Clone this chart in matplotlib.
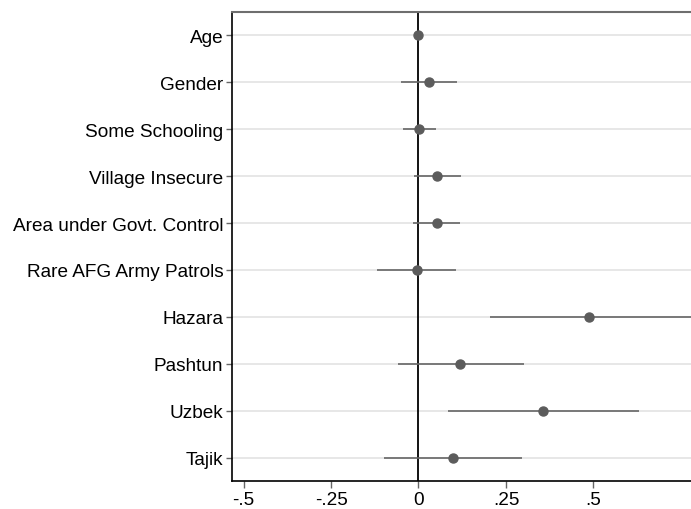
import numpy as np
import matplotlib.pyplot as plt

plt.rcParams['font.family'] = ['Liberation Sans', 'DejaVu Sans']

# variables, top to bottom
etiquetas = ['Age', 'Gender', 'Some Schooling', 'Village Insecure',
             'Area under Govt. Control', 'Rare AFG Army Patrols',
             'Hazara', 'Pashtun', 'Uzbek', 'Tajik']
coef = [0.000, 0.030, 0.001, 0.054, 0.052, -0.005, 0.487, 0.119, 0.357, 0.098]
ci_bajo = [-0.002, -0.050, -0.045, -0.012, -0.016, -0.118, 0.203, -0.060, 0.085, -0.100]
ci_alto = [0.002, 0.110, 0.049, 0.121, 0.119, 0.108, 0.800, 0.302, 0.631, 0.296]
ticks_x = [-0.5, -0.25, 0, 0.25, 0.5]
ticks_x_lab = ['-.5', '-.25', '0', '.25', '.5']

pos = np.arange(len(etiquetas))

fig = plt.figure(figsize=(6.91, 5.10), dpi=100)
ax = fig.add_axes([0.3353, 0.0549, 0.6647, 0.9196])

for p in pos:
    ax.axhline(p, color='#e3e3e3', lw=1.2, zorder=0)
ax.axvline(0, color='black', lw=1.3, zorder=1)

ax.hlines(pos, ci_bajo, ci_alto, color='#666666', lw=1.2, zorder=2)
ax.plot(coef, pos, 'o', color='#5c5c5c', ms=6.5, zorder=3)

ax.set_xlim(-0.534, 0.779)
ax.set_ylim(len(etiquetas) - 0.5, -0.5)
ax.set_yticks(pos)
ax.set_yticklabels(etiquetas, fontsize=13.7)
ax.set_xticks(ticks_x)
ax.set_xticklabels(ticks_x_lab, fontsize=13.7)

ax.tick_params(axis='y', length=4, width=1, color='#666666', pad=2)
ax.tick_params(axis='x', length=5, width=1, color='#666666', pad=2)

ax.spines['right'].set_visible(False)
ax.spines['top'].set_color('#6e6e6e')
ax.spines['top'].set_linewidth(1.5)
ax.spines['left'].set_color('black')
ax.spines['left'].set_linewidth(1.2)
ax.spines['bottom'].set_color('black')
ax.spines['bottom'].set_linewidth(1.2)

fig.savefig('out.png', dpi=100)
